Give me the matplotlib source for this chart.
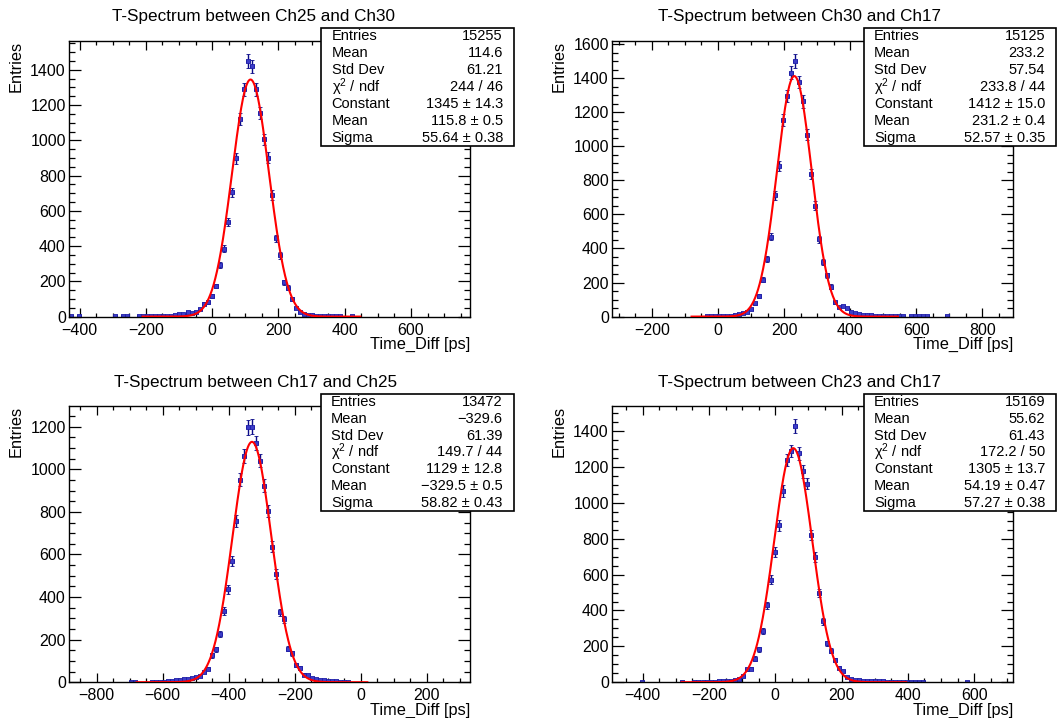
import numpy as np
import matplotlib
matplotlib.use("Agg")
import matplotlib.pyplot as plt
from matplotlib.patches import Rectangle
from matplotlib.ticker import MultipleLocator

plt.rcParams['font.family'] = ['Liberation Sans', 'DejaVu Sans']
plt.rcParams['mathtext.fontset'] = 'custom'
plt.rcParams['mathtext.rm'] = 'Liberation Sans'
plt.rcParams['mathtext.default'] = 'regular'

W, H = 1057, 718

# ---- histogram data: 100 bins per spectrum, range [x_lo, x_hi] ----
titles = ["T-Spectrum between Ch25 and Ch30", "T-Spectrum between Ch30 and Ch17",
          "T-Spectrum between Ch17 and Ch25", "T-Spectrum between Ch23 and Ch17"]
x_lo = [-431, -320, -883, -492]
x_hi = [778, 894, 332, 718]

counts_25_30 = [1, 0, 1, 0, 0, 0, 0, 0, 0, 0,
                0, 1, 0, 1, 1, 0, 0, 1, 2, 3,
                2, 3, 4, 4, 6, 6, 9, 12, 16, 24,
                22, 28, 44, 73, 81, 115, 173, 290, 384, 535,
                705, 898, 1120, 1290, 1450, 1420, 1290, 1155, 1005, 902,
                690, 444, 348, 194, 165, 100, 50, 25, 12, 8,
                7, 6, 5, 3, 2, 2, 1, 1, 0, 0,
                1, 0, 0, 0, 0, 0, 0, 0, 0, 0,
                0, 0, 0, 0, 0, 0, 0, 0, 0, 0,
                0, 0, 0, 0, 0, 0, 0, 0, 0, 0]
counts_30_17 = [0, 0, 0, 0, 0, 0, 0, 0, 0, 0,
                0, 0, 0, 0, 0, 0, 0, 0, 0, 0,
                0, 0, 0, 1, 2, 3, 3, 4, 5, 6,
                10, 16, 22, 28, 44, 79, 123, 216, 337, 470,
                712, 884, 1154, 1293, 1431, 1501, 1378, 1263, 1069, 837,
                652, 454, 321, 242, 176, 83, 55, 63, 50, 25,
                20, 15, 12, 9, 8, 6, 5, 4, 3, 3,
                2, 2, 1, 0, 1, 1, 1, 1, 1, 0,
                0, 0, 0, 1, 0, 0, 0, 0, 0, 0,
                0, 0, 0, 0, 0, 0, 0, 0, 0, 0]
counts_17_25 = [0, 0, 0, 0, 0, 0, 0, 0, 0, 0,
                0, 0, 0, 0, 0, 1, 1, 0, 0, 0,
                1, 1, 1, 1, 4, 6, 8, 10, 13, 16,
                20, 24, 30, 48, 63, 127, 154, 227, 333, 436,
                571, 756, 951, 1062, 1197, 1200, 1124, 1041, 922, 805,
                637, 507, 328, 296, 158, 135, 79, 68, 36, 33,
                21, 16, 10, 8, 6, 5, 4, 3, 2, 1,
                0, 0, 0, 0, 0, 0, 0, 0, 0, 0,
                0, 0, 0, 0, 0, 0, 0, 0, 0, 0,
                0, 0, 0, 0, 0, 0, 0, 0, 0, 0]
counts_23_17 = [0, 0, 0, 0, 0, 0, 0, 1, 0, 0,
                0, 0, 0, 0, 0, 0, 0, 1, 0, 0,
                1, 1, 2, 2, 3, 3, 4, 5, 7, 9,
                13, 19, 32, 72, 75, 132, 183, 283, 428, 572,
                726, 874, 1066, 1240, 1289, 1428, 1277, 1175, 1108, 821,
                698, 500, 340, 217, 175, 126, 81, 62, 28, 19,
                13, 10, 8, 7, 6, 6, 5, 4, 3, 3,
                2, 2, 2, 1, 1, 1, 1, 1, 0, 0,
                0, 0, 0, 0, 0, 0, 0, 0, 1, 0,
                0, 0, 0, 0, 0, 0, 0, 0, 0, 0]
counts = [counts_25_30, counts_30_17, counts_17_25, counts_23_17]

# ---- statistics and gaussian fit results ----
entries = [15255, 15125, 13472, 15169]
hist_mean = [114.6, 233.2, -329.6, 55.62]
std_dev = [61.21, 57.54, 61.39, 61.43]
chi2 = [244, 233.8, 149.7, 172.2]
ndf = [46, 44, 44, 50]
fit_const = [1345, 1412, 1129, 1305]
fit_const_err = [14.3, 15.0, 12.8, 13.7]
fit_mean = [115.8, 231.2, -329.5, 54.19]
fit_mean_err = [0.5, 0.4, 0.5, 0.47]
fit_sigma = [55.64, 52.57, 58.82, 57.27]
fit_sigma_err = [0.38, 0.35, 0.43, 0.38]
fit_lo = [-210, -80, -679, -283]
fit_hi = [447, 545, 20, 395]

# ---- layout in pixels: (left, top, right, bottom) ----
frames = [(69.3, 41.2, 470.0, 316.6), (612.3, 41.2, 1013.2, 316.6),
          (69.3, 406.2, 470.3, 682.2), (612.3, 406.2, 1013.2, 682.2)]
boxes = [(321.2, 28.0, 513.9, 146.0), (863.7, 28.0, 1056.0, 146.0),
         (320.5, 393.7, 513.5, 511.0), (863.7, 393.7, 1056.0, 511.0)]
title_pos = [(254, 16.5), (799, 16.5), (256, 382), (799, 382)]


def fx(px):
    return px / W


def fy(py):
    return 1 - py / H


def num(v, fmt):
    return (fmt % v).replace('-', '\u2212')


fig = plt.figure(figsize=(W / 100, H / 100), dpi=100)
fig.patch.set_facecolor('white')

for i in range(4):
    l, t, r, b = frames[i]
    ax = fig.add_axes([fx(l), fy(b), (r - l) / W, (b - t) / H])
    n = np.asarray(counts[i], dtype=float)
    edges = np.linspace(x_lo[i], x_hi[i], len(n) + 1)
    centers = 0.5 * (edges[:-1] + edges[1:])
    width = edges[1] - edges[0]
    filled = n > 0
    ax.errorbar(centers[filled], n[filled], xerr=width / 2, yerr=np.sqrt(n[filled]),
                fmt='s', ms=3.0, mfc='#3c3cc8', mec='#2020a8', mew=0.6,
                ecolor='#0a0a88', elinewidth=1.0, capsize=1.6, capthick=1.0, zorder=2)
    xf = np.linspace(fit_lo[i], fit_hi[i], 800)
    yf = fit_const[i] * np.exp(-0.5 * ((xf - fit_mean[i]) / fit_sigma[i]) ** 2)
    ax.plot(xf, yf, color='#ff0000', lw=1.5, zorder=3)

    ax.set_xlim(x_lo[i], x_hi[i])
    ax.set_ylim(0, 1.05 * np.max(n + np.sqrt(n)))
    ax.xaxis.set_major_locator(MultipleLocator(200))
    ax.xaxis.set_minor_locator(MultipleLocator(50))
    ax.yaxis.set_major_locator(MultipleLocator(200))
    ax.yaxis.set_minor_locator(MultipleLocator(50))
    ax.tick_params(axis='both', which='both', direction='in', top=True, right=True,
                   width=0.9, colors='black', labelsize=11.5)
    ax.tick_params(axis='x', which='major', length=6.4, pad=4.5)
    ax.tick_params(axis='x', which='minor', length=3.2)
    ax.tick_params(axis='y', which='major', length=8.5, pad=2.5)
    ax.tick_params(axis='y', which='minor', length=4.3)
    for s in ax.spines.values():
        s.set_linewidth(1.0)

    # axis titles, ROOT style: right-aligned x title, top-aligned y title
    fig.text(fx(r), fy(b + 28.3), "Time_Diff [ps]", ha='right', va='center', fontsize=11.8)
    fig.text(fx(l - 53), fy(t), "Entries", rotation=90, ha='center', va='top', fontsize=11.8)
    tx, ty = title_pos[i]
    fig.text(fx(tx), fy(ty), titles[i], ha='center', va='center', fontsize=12.3)

    # statistics box
    bl, bt, br, bb = boxes[i]
    fig.add_artist(Rectangle((fx(bl), fy(bb)), (br - bl) / W, (bb - bt) / H,
                             transform=fig.transFigure, facecolor='white',
                             edgecolor='black', lw=1.2, zorder=10))
    labels = ["Entries", "Mean", "Std Dev", "\u03c7$^{2}$ / ndf", "Constant", "Mean", "Sigma"]
    values = [
        "%d" % entries[i],
        num(hist_mean[i], "%.4g"),
        num(std_dev[i], "%.4g"),
        "%s / %d" % (num(chi2[i], "%.4g"), ndf[i]),
        "%s \u00b1 %.1f" % (num(fit_const[i], "%.4g"), fit_const_err[i]),
        "%s \u00b1 %s" % (num(fit_mean[i], "%.4g"),
                          ("%.2f" if abs(fit_mean[i]) < 100 else "%.1f") % fit_mean_err[i]),
        "%s \u00b1 %.2f" % (num(fit_sigma[i], "%.4g"), fit_sigma_err[i]),
    ]
    step = (bb - bt) / 7
    for k in range(7):
        yk = bt + (k + 0.5) * step
        fig.text(fx(bl + 10.5), fy(yk), labels[k], ha='left', va='center',
                 fontsize=10.5, zorder=11)
        fig.text(fx(br - 11), fy(yk), values[k], ha='right', va='center',
                 fontsize=10.5, zorder=11)

fig.savefig("out.png", dpi=100, facecolor='white')
